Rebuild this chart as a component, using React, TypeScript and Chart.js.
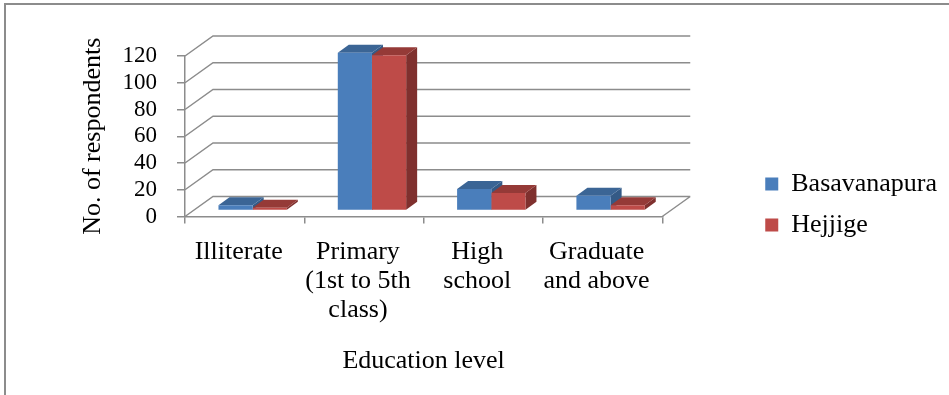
import React, { useEffect, useRef } from 'react';
import { Chart, registerables } from 'chart.js';

Chart.register(...registerables);

// ---- data ----
const categories: (string | string[])[] = [
  'Illiterate',
  ['Primary', '(1st to 5th', 'class)'],
  ['High', 'school'],
  ['Graduate', 'and above'],
];
const seriesNames = ['Basavanapura', 'Hejjige'];
const basavanapura = [4, 118, 16, 11];
const hejjige = [2, 116, 13, 4];
const yMin = 0;
const yMax = 120;
const yStep = 20;
const xTitle = 'Education level';
const yTitle = 'No. of respondents';

// ---- style ----
const SERIF = '"Liberation Serif", "Times New Roman", Times, serif';
const GRID = '#8c8c8c';
const FRONT = ['#4a7ebb', '#be4b48'];
const TOP = ['#3b6595', '#953a37'];
const SIDE = ['#345a86', '#7f302e'];

// 3D geometry (screen offsets of depth planes)
const WALL = { dx: 28, dy: -20 };
const BAR_PLANE = { dx: 8, dy: -6 };
const BAR_DEPTH = { dx: 11, dy: -8 };
const LEGEND_SHIFT = { dx: 88, dy: -12 };
const Y_AXIS_WIDTH = 107;

const threeD = {
  id: 'threeD',
  beforeDatasetsDraw(chart: any) {
    const { ctx, chartArea: a, scales } = chart;
    const ys = scales.y;
    ctx.save();
    ctx.strokeStyle = GRID;
    ctx.lineWidth = 1.5;
    ctx.beginPath();
    ys.ticks.forEach((t: any) => {
      const py = ys.getPixelForValue(t.value);
      ctx.moveTo(a.left, py);
      ctx.lineTo(a.left + WALL.dx, py + WALL.dy);
      ctx.lineTo(a.right + WALL.dx, py + WALL.dy);
    });
    const p0 = ys.getPixelForValue(yMin);
    ctx.moveTo(a.right, p0);
    ctx.lineTo(a.right + WALL.dx, p0 + WALL.dy);
    ctx.stroke();

    // side and top faces of bars
    ctx.translate(BAR_PLANE.dx, BAR_PLANE.dy);
    const n = chart.data.labels.length;
    for (let j = 0; j < n; j++) {
      chart.data.datasets.forEach((_ds: any, i: number) => {
        const el = chart.getDatasetMeta(i).data[j];
        if (!el) return;
        const { x, y: top, base, width } = el.getProps(['x', 'y', 'base', 'width'], true);
        const l = x - width / 2;
        const r = x + width / 2;
        ctx.fillStyle = SIDE[i];
        ctx.beginPath();
        ctx.moveTo(r, top);
        ctx.lineTo(r + BAR_DEPTH.dx, top + BAR_DEPTH.dy);
        ctx.lineTo(r + BAR_DEPTH.dx, base + BAR_DEPTH.dy);
        ctx.lineTo(r, base);
        ctx.closePath();
        ctx.fill();
        ctx.fillStyle = TOP[i];
        ctx.beginPath();
        ctx.moveTo(l, top);
        ctx.lineTo(r, top);
        ctx.lineTo(r + BAR_DEPTH.dx, top + BAR_DEPTH.dy);
        ctx.lineTo(l + BAR_DEPTH.dx, top + BAR_DEPTH.dy);
        ctx.closePath();
        ctx.fill();
      });
    }
    ctx.restore();
    // fronts drawn by Chart.js on the bar plane
    ctx.save();
    ctx.translate(BAR_PLANE.dx, BAR_PLANE.dy);
  },
  afterDatasetsDraw(chart: any) {
    chart.ctx.restore();
  },
};

const legendShift = {
  id: 'legendShift',
  afterLayout(chart: any) {
    const lg = chart.legend;
    if (!lg) return;
    lg.left += LEGEND_SHIFT.dx;
    lg.right += LEGEND_SHIFT.dx;
    lg.top += LEGEND_SHIFT.dy;
    lg.bottom += LEGEND_SHIFT.dy;
  },
};

export default function App() {
  const ref = useRef<HTMLCanvasElement>(null);

  useEffect(() => {
    if (!ref.current) return;
    const chart = new Chart(ref.current, {
      type: 'bar',
      data: {
        labels: categories,
        datasets: [
          {
            label: seriesNames[0],
            data: basavanapura,
            backgroundColor: FRONT[0],
            borderWidth: 0,
            clip: false as any,
          },
          {
            label: seriesNames[1],
            data: hejjige,
            backgroundColor: FRONT[1],
            borderWidth: 0,
            clip: false as any,
          },
        ],
      },
      options: {
        responsive: true,
        maintainAspectRatio: false,
        animation: false,
        categoryPercentage: 0.573,
        barPercentage: 1,
        layout: { padding: { left: 78, top: 56, right: 92, bottom: 18 } },
        plugins: {
          legend: {
            position: 'right',
            labels: {
              font: { family: SERIF, size: 26 },
              color: '#000',
              boxWidth: 13,
              boxHeight: 13,
              padding: 15,
            },
          },
          tooltip: { enabled: false },
        },
        scales: {
          x: {
            grid: {
              display: true,
              drawOnChartArea: false,
              drawTicks: true,
              tickLength: 7,
              color: GRID,
              lineWidth: 1.5,
              offset: true,
            },
            border: { display: true, color: GRID, width: 1.5 },
            ticks: {
              font: { family: SERIF, size: 26, lineHeight: 1.12 },
              color: '#000',
              padding: 14,
              labelOffset: -6,
              maxRotation: 0,
              autoSkip: false,
            },
            title: {
              display: true,
              text: xTitle,
              font: { family: SERIF, size: 26 },
              color: '#000',
              padding: { top: 26, bottom: 0 },
            },
          },
          y: {
            min: yMin,
            max: yMax,
            afterFit: (scale: any) => {
              scale.width = Y_AXIS_WIDTH;
            },
            grid: {
              display: true,
              drawOnChartArea: false,
              drawTicks: true,
              tickLength: 8,
              color: GRID,
              lineWidth: 1.5,
            },
            border: { display: true, color: GRID, width: 1.5 },
            ticks: {
              stepSize: yStep,
              autoSkip: false,
              font: { family: SERIF, size: 23 },
              color: '#000',
              padding: 20,
            },
            title: {
              display: true,
              text: yTitle,
              font: { family: SERIF, size: 26 },
              color: '#000',
              padding: { top: 0, bottom: 0 },
            },
          },
        },
      } as any,
      plugins: [threeD, legendShift],
    });
    return () => chart.destroy();
  }, []);

  return (
    <div style={{ position: 'fixed', left: 0, top: 0, width: 949, height: 395, background: '#fff' }}>
      <div style={{ position: 'absolute', left: 0, top: 0, width: 949, height: 395 }}>
        <canvas ref={ref} />
      </div>
      <div
        style={{
          position: 'absolute',
          left: 4,
          top: 3,
          right: 0,
          bottom: 0,
          borderTop: '2px solid #8c8c8c',
          borderLeft: '2px solid #8c8c8c',
          pointerEvents: 'none',
        }}
      />
    </div>
  );
}
